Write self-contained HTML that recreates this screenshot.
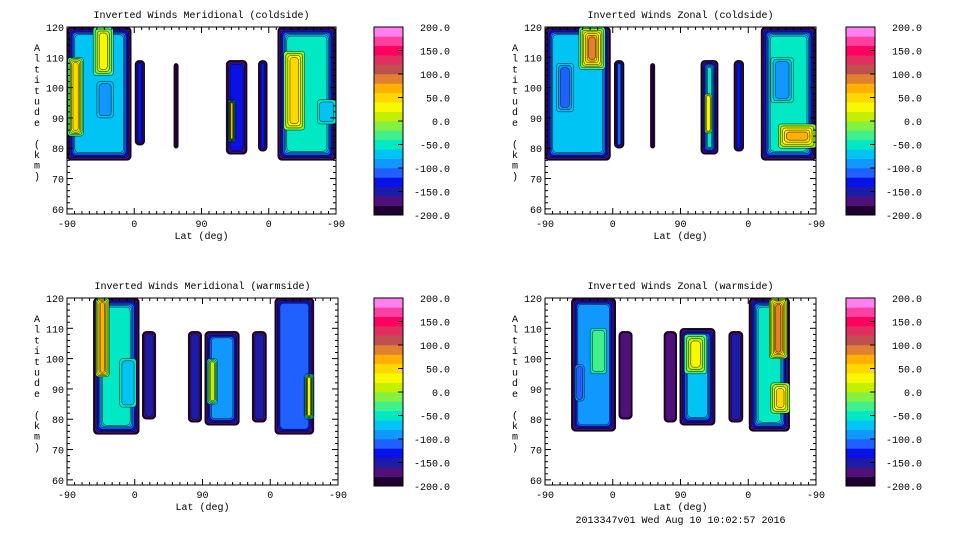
<!DOCTYPE html>
<html><head><meta charset="utf-8">
<style>
html,body{margin:0;padding:0;background:#fff;}
svg{display:block;font-family:"Liberation Mono",monospace;}
</style></head>
<body>
<svg id="chart" width="960" height="540" viewBox="0 0 960 540" xmlns="http://www.w3.org/2000/svg"></svg>
<script>
// colour scale (-200..200 step 20)
const levelColors = ["#200030","#50107a","#1c1ca8","#0a10e8","#2060ff","#1098ff","#00c4f4","#00e8c4","#40f08c","#84f040","#c4f000","#f8f800","#ffd800","#ffb000","#e08030","#c05050","#e03060","#ff0060","#ff40a0","#ff80f0"];
const cbarTicks = [200,150,100,50,0,-50,-100,-150,-200];
const xTickLabels = ["-90","0","90","0","-90"];
const yTicks = [60,70,80,90,100,110,120];
// blobs: [latStart, latEnd, altBottom, altTop, baseValue, coreValue]  (lat in 0..360 composite axis units)
const blobsMeridCold = [
 [0,86,76,120,-200,-50],[1,22,84,110,-50,60],[35,62,104,120,-50,40],[40,62,90,102,-50,-100],
 [91,104,81,109,-200,-110],[143,149,80,108,-200,-190],
 [213,241,78,109,-200,-120],[215,226,82,96,-120,50],
 [256,268,79,109,-200,-120],
 [282,360,76,120,-200,-40],[290,318,86,112,-40,40],[335,360,88,96,-40,-90]
];
const blobsZonalCold = [
 [0,87,76,120,-200,-60],[15,38,92,108,-60,-130],[45,80,106,120,-60,80],
 [92,105,80,109,-200,-100],[140,146,80,108,-200,-190],
 [207,230,78,109,-200,-40],[212,222,85,98,-40,20],
 [251,264,79,109,-200,-120],
 [287,360,76,120,-200,-40],[310,360,80,88,-40,60],[300,330,95,110,-40,-110]
];
const blobsMeridWarm = [
 [35,96,75,120,-200,-40],[38,56,94,120,-40,70],[70,92,84,100,-40,-90],
 [100,118,80,109,-200,-130],
 [161,179,79,109,-200,-130],
 [183,229,78,109,-200,-70],[186,200,85,100,-70,10],
 [246,265,79,109,-200,-130],
 [276,328,75,120,-200,-100],[315,328,80,95,-100,20]
];
const blobsZonalWarm = [
 [35,94,76,120,-200,-70],[40,52,86,98,-70,-120],[60,82,95,110,-70,-30],
 [98,116,80,109,-200,-150],
 [158,175,79,109,-200,-160],
 [179,226,78,110,-200,-60],[185,215,95,108,-60,30],
 [244,263,79,109,-200,-140],
 [271,325,76,120,-200,-30],[298,322,100,120,-30,100],[300,325,82,92,-30,50]
];
const panels = [
 {name:"meridional-coldside",title:"Inverted Winds Meridional (coldside)",x0:67,y0:27,w:269,h:187,blobs:blobsMeridCold,cb:374,foot:false},
 {name:"zonal-coldside",title:"Inverted Winds Zonal (coldside)",x0:545,y0:27,w:271,h:187,blobs:blobsZonalCold,cb:846,foot:false},
 {name:"meridional-warmside",title:"Inverted Winds Meridional (warmside)",x0:67,y0:298,w:271,h:187,blobs:blobsMeridWarm,cb:374,foot:false},
 {name:"zonal-warmside",title:"Inverted Winds Zonal (warmside)",x0:545,y0:298,w:271,h:187,blobs:blobsZonalWarm,cb:846,foot:true}
];
const NS="http://www.w3.org/2000/svg";
const svg=document.getElementById('chart');
function mk(tag,attrs,parent){const e=document.createElementNS(NS,tag);for(const k in attrs)e.setAttribute(k,attrs[k]);(parent||svg).appendChild(e);return e;}
function colorFor(v){let i=Math.floor((v+200)/20);i=Math.max(0,Math.min(19,i));return levelColors[i];}

panels.forEach(p=>{
 const g=mk('g',{});
 
 
 const xS=u=>p.x0+u/360*p.w;
 const yS=a=>p.y0+p.h-(a-58.3)/(120-58.3)*p.h;
 const t=mk('text',{x:p.x0+p.w/2,y:p.y0-9,'font-size':10,'text-anchor':'middle',fill:'#000'},g);
 t.textContent=p.title;
 
 
 const clip=mk('clipPath',{id:'c'+p.name},g);
 mk('rect',{x:p.x0,y:p.y0,width:p.w,height:p.h},clip);
 const mg=mk('g',{'clip-path':'url(#c'+p.name+')'},g);
 p.blobs.forEach(b=>{
  const [u0,u1,a0,a1,base,val]=b;
  let x=xS(u0),x2=xS(u1),y=yS(a1),y2=yS(a0);
  const dir=val>=base?1:-1;
  const n=Math.max(1,Math.floor(Math.abs(val-base)/20));
  const minDim=Math.min(x2-x,y2-y);
  const inset=Math.min(base===-200?1.3:2.2,minDim/2/(n+1));
  for(let i=0;i<n;i++){
   const v=base+dir*(i*20+10)+(base===-200?0:dir*10);
   const w=Math.max(0.5,x2-x-2*i*inset),h=Math.max(0.5,y2-y-2*i*inset);
   const r=mk('rect',{x:x+i*inset,y:y+i*inset,width:w,height:h,rx:Math.min(w/2,base===-200?4:3),fill:colorFor(v),stroke:'#000','stroke-width':0.45},mg);
   
   
  }
 });
 const fr=mk('rect',{x:p.x0,y:p.y0,width:p.w,height:p.h,fill:'none',stroke:'#000','stroke-width':1},g);
 
 
 for(let a=60;a<=120;a+=2){
  const len=(a%10===0)?6:3;const yy=yS(a);
  mk('line',{x1:p.x0,x2:p.x0+len,y1:yy,y2:yy,stroke:'#000'},g);
  mk('line',{x1:p.x0+p.w,x2:p.x0+p.w-len,y1:yy,y2:yy,stroke:'#000'},g);
 }
 yTicks.forEach(a=>{const tt=mk('text',{x:p.x0-3,y:yS(a)+4,'font-size':10,'text-anchor':'end'},g);tt.textContent=a;
  
  });
 for(let u=0;u<=360;u+=10){
  const len=(u%90===0)?6:3;const xx=xS(u);
  mk('line',{x1:xx,x2:xx,y1:p.y0+p.h,y2:p.y0+p.h-len,stroke:'#000'},g);
  mk('line',{x1:xx,x2:xx,y1:p.y0,y2:p.y0+len,stroke:'#000'},g);
 }
 xTickLabels.forEach((l,i)=>{const tt=mk('text',{x:xS(i*90),y:p.y0+p.h+13,'font-size':10,'text-anchor':'middle'},g);tt.textContent=l;
  
  });
 const xl=mk('text',{x:p.x0+p.w/2,y:p.y0+p.h+25,'font-size':10,'text-anchor':'middle'},g);xl.textContent='Lat (deg)';
 
 
 const yl=mk('text',{x:p.x0-30,y:p.y0+24,'font-size':10,'text-anchor':'middle'},g);
 
 
 'Altitude (km)'.split('').forEach((c,i)=>{const s=mk('tspan',{x:p.x0-30,y:p.y0+24+i*10.7},yl);s.textContent=c;});
 const cb=mk('g',{},g);
 
 
 const cy0=p.y0,ch=188,bh=ch/20;
 levelColors.forEach((c,i)=>{mk('rect',{x:p.cb,y:cy0+ch-(i+1)*bh,width:29,height:bh+0.3,fill:c},cb);});
 mk('rect',{x:p.cb,y:cy0,width:29,height:ch,fill:'none',stroke:'#000'},cb);
 cbarTicks.forEach(v=>{const yy=cy0+ch-(v+200)/400*ch;
  mk('line',{x1:p.cb+24,x2:p.cb+29,y1:yy,y2:yy,stroke:'#000'},cb);
  const tt=mk('text',{x:p.cb+76,y:yy+4,'font-size':10,'text-anchor':'end'},cb);tt.textContent=v.toFixed(1);
  
  });
 if(p.foot){const f=mk('text',{x:p.x0+p.w/2,y:p.y0+p.h+38,'font-size':10,'text-anchor':'middle'},g);f.textContent='2013347v01 Wed Aug 10 10:02:57 2016';
  
  }
});
</script>
</body></html>
